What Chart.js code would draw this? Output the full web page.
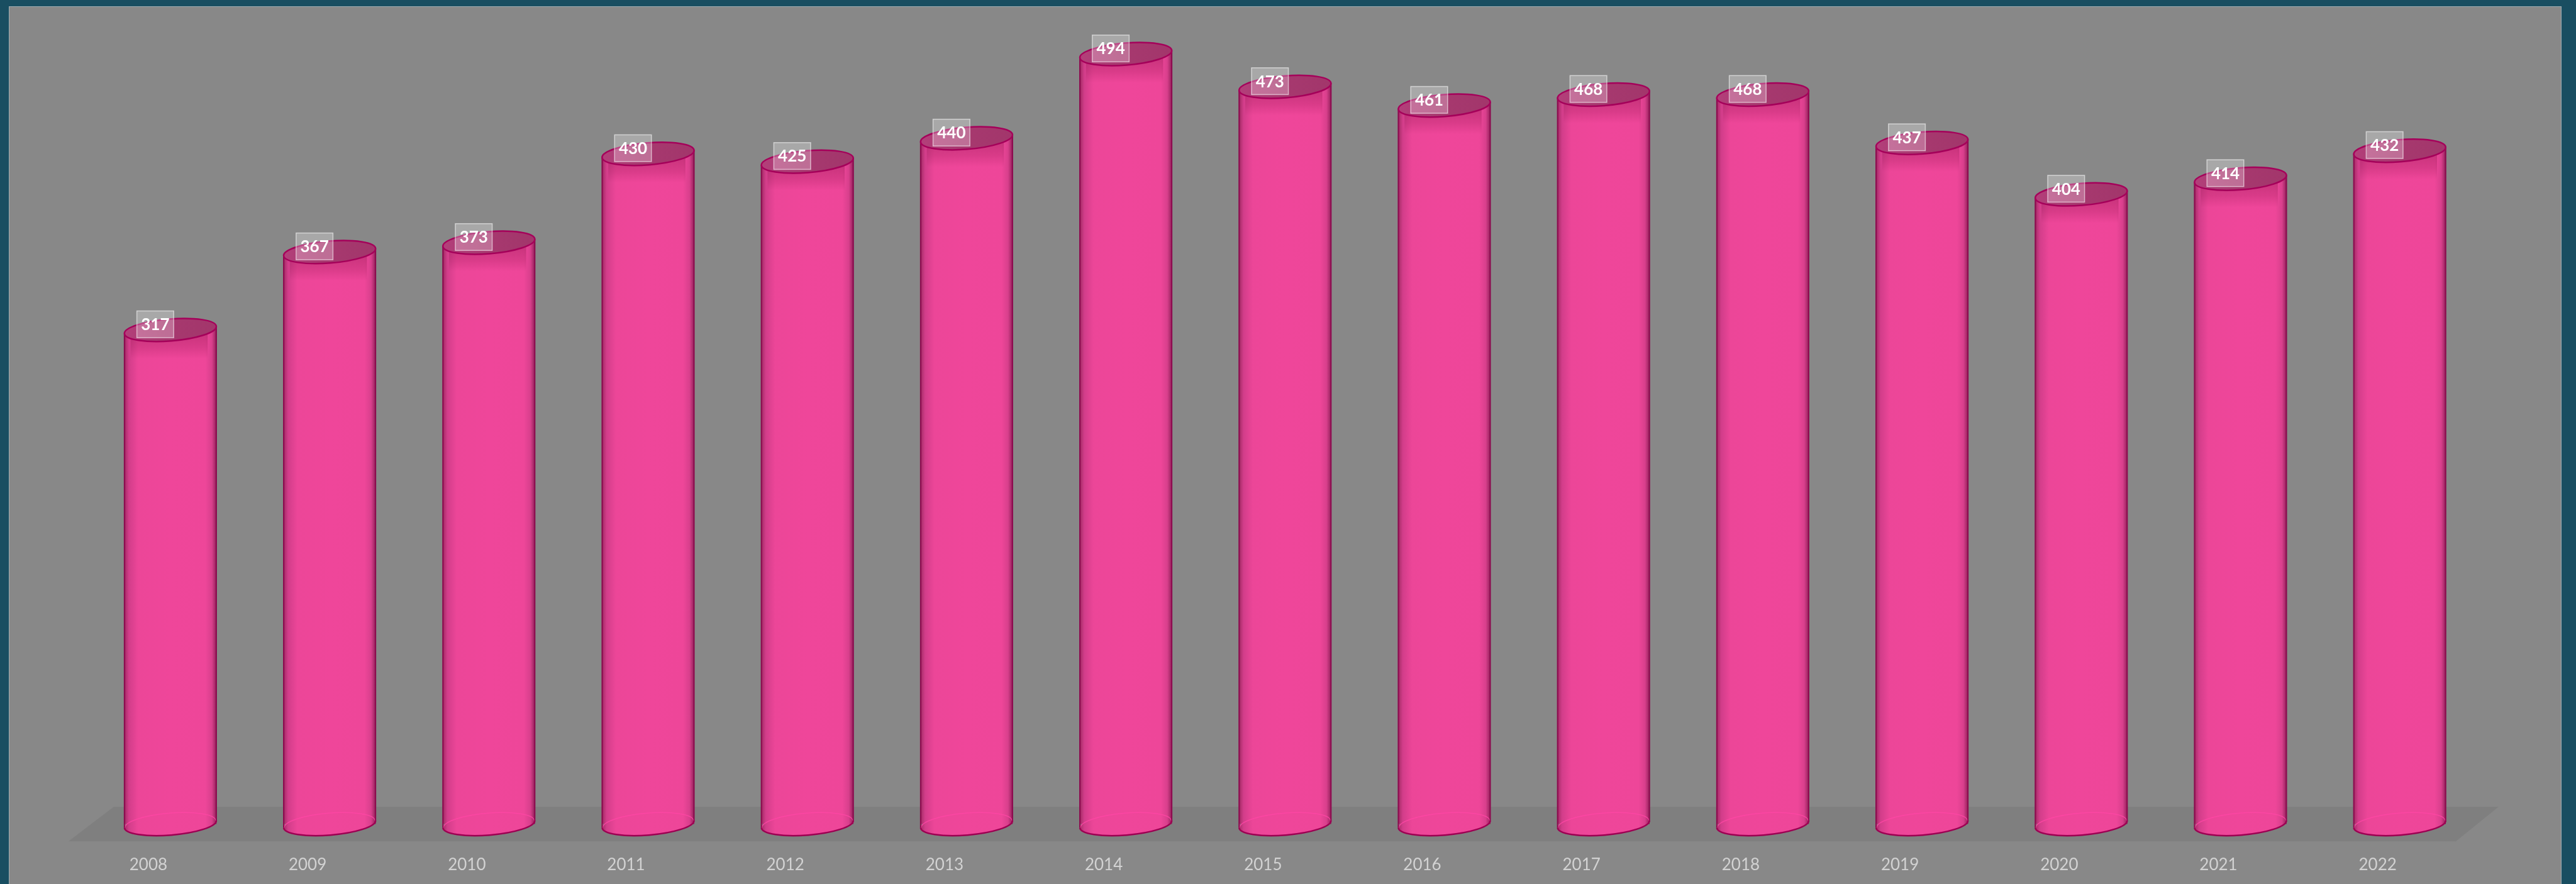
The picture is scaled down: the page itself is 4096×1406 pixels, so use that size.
<!DOCTYPE html>
<html lang="en">
<head>
<meta charset="UTF-8">
<title>Cylinders 2008 - 2022</title>
<script src="https://cdn.jsdelivr.net/npm/chart.js"></script>
<style>
  html, body { margin: 0; padding: 0; width: 4096px; height: 1406px; overflow: hidden; background: #194e61; }
  #panel { position: absolute; left: 14px; top: 10px; width: 4059px; height: 1396px; background: #888888;
           box-shadow: inset 1px 1px 0 #9fadb3, inset -1px 0 0 #9fadb3; }
  canvas { display: block; }
</style>
</head>
<body>
<div id="panel"><canvas id="chart" width="4059" height="1396"></canvas></div>
<script>
const years = ['2008', '2009', '2010', '2011', '2012', '2013', '2014', '2015', '2016', '2017', '2018', '2019', '2020', '2021', '2022'];
const values = [317, 367, 373, 430, 425, 440, 494, 473, 461, 468, 468, 437, 404, 414, 432];

const FONT = 'Lato, "Open Sans", sans-serif';
const BAR_PCT = 0.579;
const TILT = -0.08;   // caps lean up to the right
const RY = 17.5;

// point on a tilted ellipse
function pt(cx, cy, rx, t) {
  const c = Math.cos(TILT), s = Math.sin(TILT);
  const ex = rx * Math.cos(t), ey = RY * Math.sin(t);
  return [cx + ex * c - ey * s, cy + ex * s + ey * c];
}

function bodyGradient(ctx, x, w) {
  const g = ctx.createLinearGradient(x - w / 2, 0, x + w / 2, 0);
  g.addColorStop(0, '#7c0c47');
  g.addColorStop(0.015, '#b0306f');
  g.addColorStop(0.05, '#d23d8a');
  g.addColorStop(0.15, '#ec4698');
  g.addColorStop(0.5, '#ef469a');
  g.addColorStop(0.88, '#ee4699');
  g.addColorStop(0.95, '#d83f8c');
  g.addColorStop(0.985, '#a82a69');
  g.addColorStop(1, '#7c0c47');
  return g;
}

function bars(chart) {
  return chart.getDatasetMeta(0).data.map(el => el.getProps(['x', 'y', 'base', 'width'], true));
}

const cylinders = {
  id: 'cylinders',
  beforeDatasetsDraw(chart) {
    const { ctx, chartArea } = chart;
    const zeroY = chart.scales.y.getPixelForValue(0);
    // floor
    ctx.save();
    ctx.fillStyle = '#7f7f7f';
    ctx.beginPath();
    ctx.moveTo(chartArea.left - 35.5, zeroY + 27.5);
    ctx.lineTo(chartArea.left + 36.5, zeroY - 27.5);
    ctx.lineTo(chartArea.right + 30.5, zeroY - 27.5);
    ctx.lineTo(chartArea.right - 37.5, zeroY + 27.5);
    ctx.closePath();
    ctx.fill();
    // bottom discs
    bars(chart).forEach(b => {
      const rx = b.width / 2;
      ctx.fillStyle = bodyGradient(ctx, b.x, b.width);
      ctx.beginPath();
      ctx.ellipse(b.x, b.base, rx, RY, TILT, 0, Math.PI * 2);
      ctx.fill();
    });
    ctx.restore();
  },
  beforeDatasetDraw(chart) {
    // keep the bar bodies under the top arc of each cap
    const ctx = chart.ctx;
    ctx.save();
    ctx.beginPath();
    bars(chart).forEach(b => {
      const rx = b.width / 2;
      const p = pt(b.x, b.y, rx, Math.PI);
      ctx.moveTo(p[0], p[1]);
      ctx.ellipse(b.x, b.y, rx, RY, TILT, Math.PI, Math.PI * 2);
      ctx.lineTo(b.x + rx + 2, b.base + 40);
      ctx.lineTo(b.x - rx - 2, b.base + 40);
      ctx.closePath();
    });
    ctx.clip();
  },
  afterDatasetDraw(chart) {
    chart.ctx.restore();
  },
  afterDatasetsDraw(chart) {
    const ctx = chart.ctx;
    ctx.save();
    bars(chart).forEach((b, i) => {
      const rx = b.width / 2;
      const right = pt(b.x, b.y, rx, 0);
      // fill the sliver under the raised right end of the cap
      ctx.fillStyle = bodyGradient(ctx, b.x, b.width);
      ctx.beginPath();
      ctx.moveTo(right[0], right[1]);
      ctx.lineTo(b.x + rx, b.y);
      ctx.lineTo(b.x + rx - 10, b.y);
      ctx.closePath();
      ctx.fill();

      // soft shade under the cap
      const sh = ctx.createLinearGradient(0, b.y, 0, b.y + RY + 28);
      sh.addColorStop(0, 'rgba(120,10,60,0.35)');
      sh.addColorStop(0.6, 'rgba(120,10,60,0.18)');
      sh.addColorStop(1, 'rgba(120,10,60,0)');
      ctx.fillStyle = sh;
      ctx.fillRect(b.x - rx + 10, b.y, b.width - 24, RY + 28);

      // back rim of the base seen through the body
      ctx.strokeStyle = 'rgba(255,70,165,0.8)';
      ctx.lineWidth = 1.5;
      ctx.beginPath();
      ctx.ellipse(b.x, b.base, rx - 1, RY, TILT, Math.PI, Math.PI * 2);
      ctx.stroke();

      // front rim of the base
      ctx.strokeStyle = '#9c0052';
      ctx.lineWidth = 2.5;
      ctx.beginPath();
      ctx.ellipse(b.x, b.base, rx, RY, TILT, 0, Math.PI);
      ctx.stroke();

      // sides
      const lt = pt(b.x, b.y, rx, Math.PI), lb = pt(b.x, b.base, rx, Math.PI);
      const rt = pt(b.x, b.y, rx, 0), rb = pt(b.x, b.base, rx, 0);
      ctx.strokeStyle = '#8e0b50';
      ctx.lineWidth = 2;
      ctx.beginPath();
      ctx.moveTo(lt[0], lt[1]); ctx.lineTo(lb[0], lb[1]);
      ctx.moveTo(rt[0], rt[1]); ctx.lineTo(rb[0], rb[1]);
      ctx.stroke();

      // top cap
      const cg = ctx.createLinearGradient(b.x - rx, 0, b.x + rx, 0);
      cg.addColorStop(0, '#b33f7a');
      cg.addColorStop(0.45, '#a7396f');
      cg.addColorStop(1, '#a2366b');
      ctx.fillStyle = cg;
      ctx.strokeStyle = '#a5005a';
      ctx.lineWidth = 2.5;
      ctx.beginPath();
      ctx.ellipse(b.x, b.y, rx, RY, TILT, 0, Math.PI * 2);
      ctx.fill();
      ctx.stroke();

      // value label
      const bw = 58.6, bh = 42.6;
      const lx = b.x - 24, ly = b.y - 9;
      ctx.fillStyle = 'rgba(255,255,255,0.27)';
      ctx.strokeStyle = 'rgba(255,255,255,0.55)';
      ctx.lineWidth = 1.5;
      ctx.fillRect(lx - bw / 2, ly - bh / 2, bw, bh);
      ctx.strokeRect(lx - bw / 2, ly - bh / 2, bw, bh);
      ctx.fillStyle = '#ffffff';
      ctx.font = 'bold 26px ' + FONT;
      ctx.textAlign = 'center';
      ctx.textBaseline = 'middle';
      ctx.fillText(String(values[i]), lx, ly + 1);
    });
    ctx.restore();
  }
};

new Chart(document.getElementById('chart'), {
  type: 'bar',
  data: {
    labels: years,
    datasets: [{
      data: values,
      backgroundColor: c => {
        const chart = c.chart, xs = chart.scales.x;
        if (!chart.chartArea || !xs) return '#ef469a';
        const step = xs.getPixelForValue(1) - xs.getPixelForValue(0);
        return bodyGradient(chart.ctx, xs.getPixelForValue(c.dataIndex), step * BAR_PCT);
      },
      borderWidth: 0,
      categoryPercentage: 1,
      barPercentage: BAR_PCT
    }]
  },
  options: {
    responsive: false,
    animation: false,
    layout: { padding: { top: 11.6, left: 130.3, right: 130.7, bottom: 0 } },
    plugins: { legend: { display: false }, tooltip: { enabled: false } },
    scales: {
      x: {
        grid: { display: false, drawTicks: false },
        border: { display: false },
        ticks: { color: '#d2d2d2', font: { family: FONT, size: 26 }, padding: 49, labelOffset: -35, maxRotation: 0, autoSkip: false },
        afterFit: s => { s.height = 95.3; }
      },
      y: { display: false, min: 0, max: 520 }
    }
  },
  plugins: [cylinders]
});
</script>
</body>
</html>
